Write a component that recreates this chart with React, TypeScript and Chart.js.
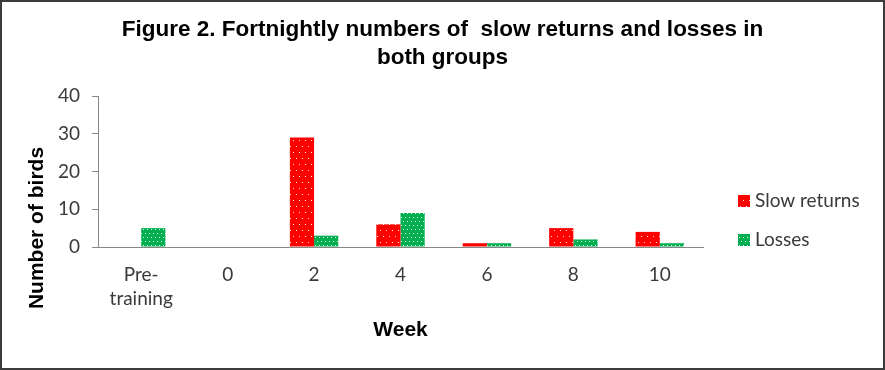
import React, { useEffect, useRef } from "react";
import { Chart, registerables } from "chart.js";

Chart.register(...registerables);

// ---- data ----
const categories: (string | string[])[] = [["Pre-", "training"], "0", "2", "4", "6", "8", "10"];
const slowReturns = [0, 0, 29, 6, 1, 5, 4];
const losses = [5, 0, 3, 9, 1, 2, 1];
const seriesNames = ["Slow returns", "Losses"];
const yMin = 0;
const yMax = 40;
const yStep = 10;
const titleLines = ["Figure 2. Fortnightly numbers of  slow returns and losses in", "both groups"];
const xTitle = "Week";
const yTitle = "Number of birds";

// ---- styles ----
const RED = "#FF0000";
const GREEN = "#00B050";
const TEXT = "#3a3a3a";
const AXIS = "#878787";
const TICK_FONT = "Lato, 'Open Sans', sans-serif";
const BOLD_FONT = "'Liberation Sans', Arial, sans-serif";

function makePattern(ctx: CanvasRenderingContext2D, base: string, tile: number, dots: number[][]) {
  const c = document.createElement("canvas");
  c.width = tile;
  c.height = tile;
  const g = c.getContext("2d")!;
  g.fillStyle = base;
  g.fillRect(0, 0, tile, tile);
  g.fillStyle = "rgba(255,255,255,0.9)";
  dots.forEach(([x, y]) => g.fillRect(x, y, 1, 1));
  return ctx.createPattern(c, "repeat") as CanvasPattern;
}

const sideLegend = {
  id: "sideLegend",
  afterDraw(chart: any) {
    const { ctx, chartArea } = chart;
    const x0 = chartArea.right + 35;
    chart.data.datasets.forEach((ds: any, i: number) => {
      const cy = 201 + i * 39;
      ctx.save();
      ctx.fillStyle = ds.backgroundColor;
      ctx.fillRect(x0, cy - 6, 12, 12);
      ctx.fillStyle = TEXT;
      ctx.font = `19px ${TICK_FONT}`;
      ctx.textBaseline = "middle";
      ctx.textAlign = "left";
      ctx.fillText(ds.label, x0 + 17, cy);
      ctx.restore();
    });
  },
};

const yAxisTitle = {
  id: "yAxisTitle",
  afterDraw(chart: any) {
    const { ctx } = chart;
    ctx.save();
    ctx.translate(37, 228);
    ctx.rotate(-Math.PI / 2);
    ctx.fillStyle = "#000";
    ctx.font = `bold 21px ${BOLD_FONT}`;
    ctx.textAlign = "center";
    ctx.textBaseline = "middle";
    ctx.fillText(yTitle, 0, 0);
    ctx.restore();
  },
};

export default function App() {
  const ref = useRef<HTMLCanvasElement | null>(null);

  useEffect(() => {
    const canvas = ref.current!;
    const ctx = canvas.getContext("2d")!;
    const redPat = makePattern(ctx, RED, 12, [[2, 2], [8, 2], [5, 8], [11, 8]]);
    const greenPat = makePattern(ctx, GREEN, 8, [[1, 1], [5, 1], [3, 5], [7, 5]]);

    const chart = new Chart(canvas, {
      type: "bar",
      data: {
        labels: categories as any,
        datasets: [
          { label: seriesNames[0], data: slowReturns, backgroundColor: redPat as any, borderWidth: 0 },
          { label: seriesNames[1], data: losses, backgroundColor: greenPat as any, borderWidth: 0 },
        ],
      },
      options: {
        responsive: false,
        animation: false,
        devicePixelRatio: 1,
        layout: { padding: 0 },
        datasets: { bar: { categoryPercentage: 0.56, barPercentage: 1 } },
        plugins: {
          legend: { display: false },
          tooltip: { enabled: false },
          title: {
            display: true,
            text: titleLines,
            color: "#000",
            font: { family: BOLD_FONT, size: 22.5, weight: "bold", lineHeight: "28px" },
            padding: { top: 16, bottom: 24 },
          },
        },
        scales: {
          x: {
            grid: { display: false, drawTicks: false },
            border: { display: true, color: AXIS, width: 1 },
            ticks: {
              color: TEXT,
              font: { family: TICK_FONT, size: 19, lineHeight: "24px" },
              padding: 16,
              maxRotation: 0,
              autoSkip: false,
            },
            title: {
              display: true,
              text: xTitle,
              color: "#000",
              font: { family: BOLD_FONT, size: 21, weight: "bold", lineHeight: 1.2 },
              padding: { top: 0, bottom: 27 },
            },
            afterFit: (s: any) => {
              s.height = 123;
            },
          },
          y: {
            min: yMin,
            max: yMax,
            ticks: {
              stepSize: yStep,
              color: TEXT,
              font: { family: TICK_FONT, size: 19 },
              padding: 12,
            },
            grid: { display: true, drawOnChartArea: false, drawTicks: true, tickLength: 6, color: AXIS },
            border: { display: true, color: AXIS, width: 1 },
            afterFit: (s: any) => {
              s.width = 98;
            },
          },
          y2: {
            position: "right",
            display: true,
            grid: { display: false, drawTicks: false },
            border: { display: false },
            ticks: { display: false },
            afterFit: (s: any) => {
              s.width = 182;
            },
          },
        },
      },
      plugins: [sideLegend, yAxisTitle],
    } as any);

    return () => chart.destroy();
  }, []);

  return (
    <div style={{ position: "fixed", left: 0, top: 0, width: 885, height: 370, background: "#fff" }}>
      <canvas ref={ref} width={885} height={370} style={{ width: 885, height: 370, display: "block" }} />
      <div
        style={{
          position: "absolute",
          left: 0,
          top: 0,
          width: 885,
          height: 370,
          boxSizing: "border-box",
          border: "2px solid #3c3c3c",
          pointerEvents: "none",
        }}
      />
    </div>
  );
}
